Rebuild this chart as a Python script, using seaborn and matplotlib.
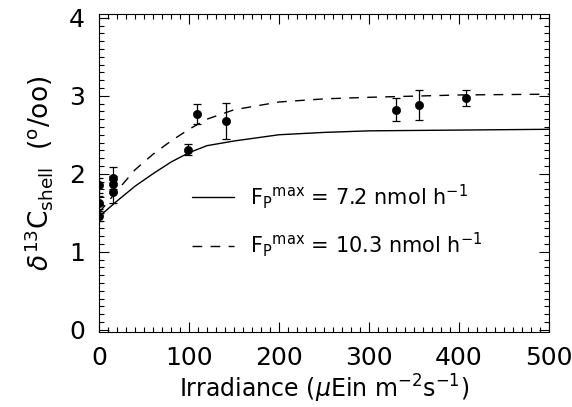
import seaborn as sb
import pandas as pd
import matplotlib.pyplot as plt
from matplotlib.ticker import MultipleLocator

# model curves
curve_x = [0, 10, 20, 40, 60, 80, 100, 120, 150, 200, 250, 300, 400, 500]
curve_72 = [1.45, 1.55, 1.65, 1.84, 2.0, 2.15, 2.27, 2.36, 2.42, 2.5, 2.53, 2.55, 2.56, 2.57]
curve_103 = [1.5, 1.64, 1.78, 2.05, 2.25, 2.42, 2.57, 2.7, 2.82, 2.92, 2.96, 2.98, 3.01, 3.02]

# measurements
irr = [0, 0, 0, 16, 16, 16, 99, 109, 141, 330, 356, 408]
d13c = [1.85, 1.63, 1.46, 1.95, 1.87, 1.77, 2.31, 2.77, 2.68, 2.82, 2.88, 2.97]
err = [0.1, 0.08, 0.06, 0.14, 0.1, 0.15, 0.07, 0.13, 0.23, 0.15, 0.19, 0.1]

curves = pd.DataFrame({
    "x": curve_x * 2,
    "y": curve_72 + curve_103,
    "run": ["7.2"] * len(curve_x) + ["10.3"] * len(curve_x),
})
pts = pd.DataFrame({"x": irr, "y": d13c, "err": err})

sb.set_style("ticks", {"axes.edgecolor": "black", "xtick.color": "black",
                       "ytick.color": "black", "text.color": "black",
                       "axes.labelcolor": "black"})
plt.rcParams["font.family"] = ["DejaVu Sans"]
plt.rcParams["mathtext.fontset"] = "dejavusans"

fig = plt.figure(figsize=(5.72, 4.07), dpi=100)
ax = fig.add_axes([0.173, 0.184, 0.787, 0.782])

sb.lineplot(data=curves[curves.run == "7.2"], x="x", y="y", color="black", lw=1.0, ax=ax,
            label=r"F$_{\rm P}$$^{\rm max}$ = 7.2 nmol h$^{-1}$")
sb.lineplot(data=curves[curves.run == "10.3"], x="x", y="y", color="black", lw=1.0, ax=ax,
            linestyle=(0, (7, 6)),
            label=r"F$_{\rm P}$$^{\rm max}$ = 10.3 nmol h$^{-1}$")
ax.errorbar(pts["x"], pts["y"], yerr=pts["err"], fmt="none", ecolor="black",
            elinewidth=0.9, capsize=3, capthick=0.9)
sb.scatterplot(data=pts, x="x", y="y", color="black", s=35, edgecolor="black", ax=ax, zorder=5)

ax.set_xlim(0, 500)
ax.set_ylim(-0.03, 4.05)
ax.xaxis.set_major_locator(MultipleLocator(100))
ax.xaxis.set_minor_locator(MultipleLocator(10))
ax.yaxis.set_major_locator(MultipleLocator(1))
ax.yaxis.set_minor_locator(MultipleLocator(0.1))
ax.tick_params(which="both", direction="in", top=True, right=True, width=0.8)
ax.tick_params(which="major", length=7, labelsize=18, pad=10)
ax.tick_params(which="minor", length=3.5)
for s in ax.spines.values():
    s.set_linewidth(0.8)

ax.set_xlabel(r"Irradiance ($\mu$Ein m$^{-2}$s$^{-1}$)", fontsize=17, labelpad=2)
ax.set_ylabel(r"$\delta^{13}$C$_{\rm shell}$  ($^{\rm o}$/oo)", fontsize=19, labelpad=10)

leg = ax.legend(loc="center left", bbox_to_anchor=(0.165, 0.35), frameon=False,
                fontsize=15, handlelength=2.0, handletextpad=0.8, labelspacing=0.95)

plt.savefig("out.png", dpi=100)
